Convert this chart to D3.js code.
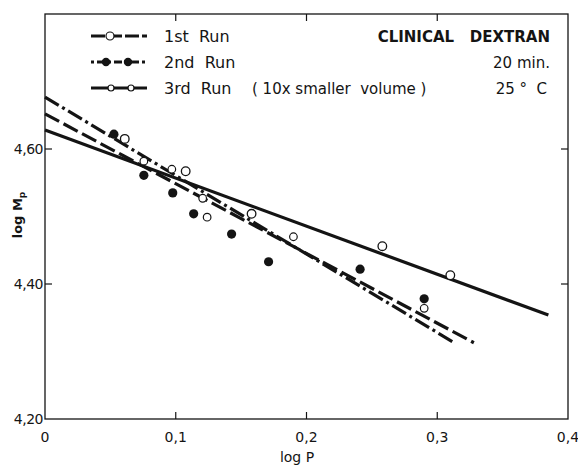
<!DOCTYPE html>
<html>
<head>
<meta charset="utf-8">
<script src="https://cdn.jsdelivr.net/npm/d3@7"></script>
<style>
  body { margin: 0; background: #fff; }
  svg { display: block; font-family: "DejaVu Sans", sans-serif; }
</style>
</head>
<body>
<svg id="chart" width="578" height="467"></svg>
<script>
// axis ticks
const xTicks = [0, 0.1, 0.2, 0.3, 0.4];
const yTicks = [4.2, 4.4, 4.6];

// measured points [log P, log Mp]
const run1 = [[0.061, 4.615], [0.1076, 4.567], [0.158, 4.504], [0.258, 4.456], [0.310, 4.413]];
const run2 = [[0.0527, 4.622], [0.0756, 4.561], [0.0977, 4.535], [0.1137, 4.504],
  [0.1427, 4.474], [0.171, 4.433], [0.241, 4.422], [0.290, 4.378]];
const run3 = [[0.0756, 4.582], [0.097, 4.570], [0.1206, 4.527], [0.124, 4.499],
  [0.190, 4.470], [0.290, 4.364]];

// fitted lines (end points)
const fit1 = [[0, 4.628], [0.385, 4.354]];
const fit2 = [[0, 4.677], [0.313, 4.313]];
const fit3 = [[0, 4.652], [0.328, 4.313]];

const ink = '#141414';
const svg = d3.select('#chart');

const x = d3.scaleLinear().domain([0, 0.4]).range([45, 568]);
const y = d3.scaleLinear().domain([4.2, 4.8]).range([419, 14]);

const fmt = d => (d === 0 ? '0' : d3.format('.1f')(d).replace('.', ','));
const fmtY = d => d3.format('.2f')(d).replace('.', ',');

// frame
svg.append('rect')
  .attr('x', x(0)).attr('y', y(4.8))
  .attr('width', x(0.4) - x(0)).attr('height', y(4.2) - y(4.8))
  .attr('fill', 'none').attr('stroke', ink).attr('stroke-width', 1.3);

// inward ticks on all four sides
const tickLen = 7;
const inner = xTicks.filter(d => d > 0 && d < 0.4);
svg.selectAll('.tb').data(inner).enter().append('line')
  .attr('x1', d => x(d)).attr('x2', d => x(d))
  .attr('y1', y(4.2)).attr('y2', y(4.2) - tickLen)
  .attr('stroke', ink).attr('stroke-width', 1.2);
svg.selectAll('.tt').data(inner).enter().append('line')
  .attr('x1', d => x(d)).attr('x2', d => x(d))
  .attr('y1', y(4.8)).attr('y2', y(4.8) + tickLen)
  .attr('stroke', ink).attr('stroke-width', 1.2);
const innerY = yTicks.filter(d => d > 4.2);
svg.selectAll('.tl').data(innerY).enter().append('line')
  .attr('x1', x(0)).attr('x2', x(0) + tickLen)
  .attr('y1', d => y(d)).attr('y2', d => y(d))
  .attr('stroke', ink).attr('stroke-width', 1.2);
svg.selectAll('.tr').data(innerY).enter().append('line')
  .attr('x1', x(0.4)).attr('x2', x(0.4) - tickLen)
  .attr('y1', d => y(d)).attr('y2', d => y(d))
  .attr('stroke', ink).attr('stroke-width', 1.2);

// tick labels
svg.selectAll('.xl').data(xTicks).enter().append('text')
  .attr('x', d => x(d)).attr('y', 442)
  .attr('text-anchor', 'middle')
  .attr('font-size', 14).attr('fill', ink)
  .text(fmt);
svg.selectAll('.yl').data(yTicks).enter().append('text')
  .attr('x', 43).attr('y', d => y(d) + 5)
  .attr('text-anchor', 'end')
  .attr('font-size', 14).attr('fill', ink)
  .attr('letter-spacing', -0.5)
  .text(fmtY);

// axis titles
svg.append('text')
  .attr('x', 297).attr('y', 462)
  .attr('text-anchor', 'middle')
  .attr('font-size', 14).attr('fill', ink)
  .text('log  P');
const yt = svg.append('text')
  .attr('transform', 'translate(22,215) rotate(-90)')
  .attr('text-anchor', 'middle')
  .attr('font-size', 13).attr('font-weight', 'bold').attr('fill', ink);
yt.append('tspan').text('log  M');
yt.append('tspan').attr('font-size', 9).attr('dy', 3).text('p');

// fitted lines
const line = d3.line().x(d => x(d[0])).y(d => y(d[1]));
const styles = [
  { data: fit1, dash: null },
  { data: fit2, dash: '16 4 3 4' },
  { data: fit3, dash: '16 5' }
];
styles.forEach(s => {
  svg.append('path')
    .attr('d', line(s.data))
    .attr('fill', 'none').attr('stroke', ink)
    .attr('stroke-width', 3.2)
    .attr('stroke-dasharray', s.dash);
});

// points
svg.selectAll('.p1').data(run1).enter().append('circle')
  .attr('cx', d => x(d[0])).attr('cy', d => y(d[1])).attr('r', 4.3)
  .attr('fill', '#fff').attr('stroke', ink).attr('stroke-width', 1.3);
svg.selectAll('.p3').data(run3).enter().append('circle')
  .attr('cx', d => x(d[0])).attr('cy', d => y(d[1])).attr('r', 3.8)
  .attr('fill', '#fff').attr('stroke', ink).attr('stroke-width', 1.2);
svg.selectAll('.p2').data(run2).enter().append('circle')
  .attr('cx', d => x(d[0])).attr('cy', d => y(d[1])).attr('r', 4.6)
  .attr('fill', ink);

// legend
const legend = [
  { label: '1st  Run', dash: '14 3', ly: 36, marks: [110], fill: '#fff', r: 4 },
  { label: '2nd  Run', dash: '3 3 8 3', ly: 62, marks: [106, 128], fill: ink, r: 3.6 },
  { label: '3rd  Run', dash: null, ly: 88, marks: [111, 131], fill: '#fff', r: 3 }
];
legend.forEach(l => {
  svg.append('line')
    .attr('x1', 91).attr('x2', 147).attr('y1', l.ly).attr('y2', l.ly)
    .attr('stroke', ink).attr('stroke-width', 3)
    .attr('stroke-dasharray', l.dash);
  l.marks.forEach(mx => {
    svg.append('circle').attr('cx', mx).attr('cy', l.ly).attr('r', l.r)
      .attr('fill', l.fill).attr('stroke', ink).attr('stroke-width', 1.2);
  });
  svg.append('text')
    .attr('x', 164).attr('y', l.ly + 6)
    .attr('font-size', 16).attr('fill', ink)
    .attr('xml:space', 'preserve')
    .text(l.label);
});
svg.append('text')
  .attr('x', 252).attr('y', 94)
  .attr('font-size', 15).attr('fill', ink)
  .attr('xml:space', 'preserve')
  .text('( 10x smaller  volume )');

svg.append('text')
  .attr('x', 550).attr('y', 42)
  .attr('text-anchor', 'end')
  .attr('font-size', 15).attr('font-weight', 'bold').attr('fill', ink)
  .attr('xml:space', 'preserve')
  .text('CLINICAL   DEXTRAN');
svg.append('text')
  .attr('x', 550).attr('y', 68)
  .attr('text-anchor', 'end')
  .attr('font-size', 15).attr('fill', ink)
  .text('20 min.');
svg.append('text')
  .attr('x', 547).attr('y', 94)
  .attr('text-anchor', 'end')
  .attr('font-size', 15).attr('fill', ink)
  .attr('xml:space', 'preserve')
  .text('25 °  C');
</script>
</body>
</html>
